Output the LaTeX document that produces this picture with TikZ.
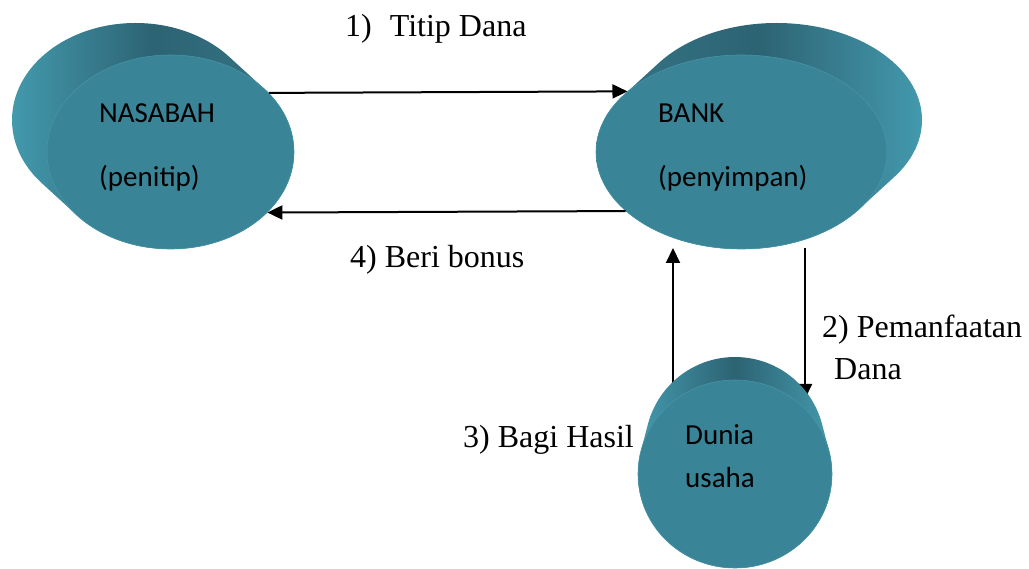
\documentclass[tikz,border=0pt]{standalone}
\usepackage{fontspec}
\setmainfont{Liberation Serif}
\newfontfamily\calibri{Carlito}
\usetikzlibrary{shapes.geometric,arrows.meta}
\definecolor{front}{RGB}{58,132,151}
\definecolor{sidedark}{RGB}{45,99,115}
\definecolor{sidemid}{RGB}{53,118,135}
\definecolor{sidelight}{RGB}{67,153,173}
\definecolor{rim}{RGB}{70,148,166}
\begin{document}
\begin{tikzpicture}[x=1pt,y=-1pt,
  face/.style={ellipse, inner sep=0pt, fill=front, draw=rim, line width=0.6pt},
  lbl/.style={anchor=base west, inner sep=0pt, font=\fontsize{32}{38}\selectfont},
  inlbl/.style={anchor=base west, inner sep=0pt, font=\calibri\fontsize{29}{35}\selectfont},
  flow/.style={line width=2pt, -{Triangle[length=15pt,width=14pt]}}]
\useasboundingbox (0,0) rectangle (1029,569);

% NASABAH body
\shade[left color=sidelight, right color=sidemid, middle color=sidedark]
  foreach \i in {0,...,24} {(170.5-35*\i/24,152-32*\i/24) ellipse [x radius=123.5, y radius=97]};
\node[face, minimum width=247pt, minimum height=194pt] (nas) at (170.5,152) {};
\node[inlbl] (nasT1) at (99,123) {NASABAH};
\node[inlbl] (nasT2) at (99,187) {(penitip)};

% BANK body
\shade[left color=sidemid, right color=sidelight, middle color=sidedark]
  foreach \i in {0,...,24} {(741.5+35*\i/24,152-32*\i/24) ellipse [x radius=145.5, y radius=97]};
\node[face, minimum width=291pt, minimum height=194pt] (bank) at (741.5,152) {};
\node[inlbl] (bankT1) at (658,123) {BANK};
\node[inlbl] (bankT2) at (658,187) {(penyimpan)};

% horizontal connectors
\draw[flow] (nas.31.7) -- (bank.152.3);
\draw[flow] (bank.207.7) -- (nas.328.3);

% vertical connectors
\coordinate (upS) at (673,398);
\coordinate (upE) at (673,248);
\coordinate (dnS) at (805,248);
\coordinate (dnE) at (805,399);
\draw[flow] (upS) -- (upE);
\draw[flow] (dnS) -- (dnE);

% Dunia usaha body
\shade[left color=sidelight, right color=sidelight, middle color=sidedark]
  foreach \i in {0,...,20} {(735,474-27*\i/20) ellipse [x radius=97-7*\i/20, y radius=94-4*\i/20]};
\node[face, minimum width=194pt, minimum height=188pt] (dunia) at (735,474) {};
\node[inlbl] (duT1) at (685,445) {Dunia};
\node[inlbl] (duT2) at (685,487) {usaha};

% labels
\node[lbl] (l1) at (345,37) {1)\hspace{18pt}Titip Dana};
\node[lbl] (l4) at (350,268) {4) Beri bonus};
\node[lbl] (l3) at (463,447) {3) Bagi Hasil};
\node[lbl] (l2) at (822,338) {2) Pemanfaatan};
\node[lbl] (l2b) at (834,380) {Dana};
\end{tikzpicture}
\end{document}
